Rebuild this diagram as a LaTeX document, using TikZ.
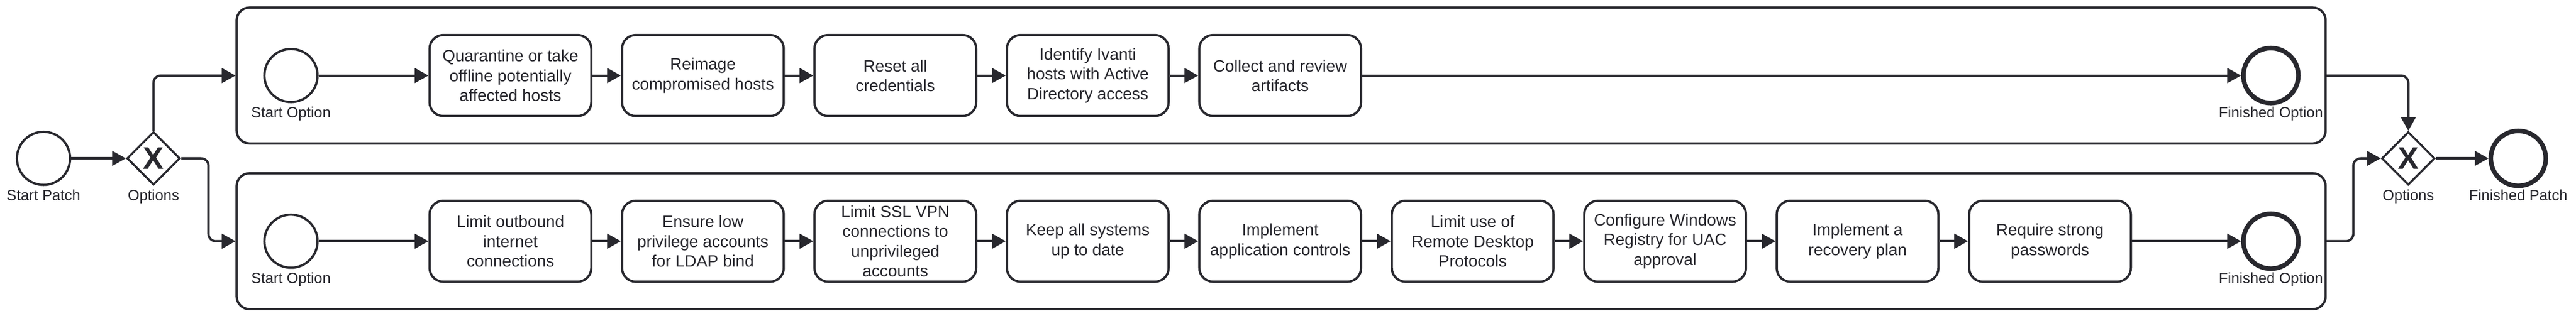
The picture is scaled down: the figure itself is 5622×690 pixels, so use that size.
\documentclass[tikz,border=0pt]{standalone}
\usepackage{fontspec}
\setmainfont{Liberation Sans}
\usetikzlibrary{shapes.geometric,arrows.meta}
\definecolor{ink}{RGB}{40,40,46}
\begin{document}
\begin{tikzpicture}[x=1pt,y=-1pt,
  every node/.style={text=ink},
  pool/.style={draw=ink, line width=5pt, rounded corners=28pt, minimum width=4559pt, minimum height=297pt, inner sep=0pt},
  task/.style={draw=ink, line width=5pt, rounded corners=30pt, minimum width=353pt, minimum height=177pt, inner sep=0pt, align=center, font=\fontsize{35.8}{43}\selectfont},
  startev/.style={circle, draw=ink, line width=5pt, minimum size=116pt, inner sep=0pt},
  endev/.style={circle, draw=ink, line width=10pt, minimum size=120pt, inner sep=0pt},
  gate/.style={diamond, draw=ink, line width=4.5pt, minimum width=116pt, minimum height=116pt, inner sep=0pt},
  gx/.style={font=\fontsize{68}{68}\selectfont\bfseries, inner sep=0pt},
  lbl/.style={font=\fontsize{32.5}{38}\selectfont, inner sep=0pt, anchor=base},
  flow/.style={draw=ink, line width=5pt, -{Triangle[length=30pt,width=32pt]}, rounded corners=16pt},
]
\useasboundingbox (0,0) rectangle (5622,690);
\fill[white] (0,0) rectangle (5622,690);

% pools
\node[pool] (pool1) at (2796,165) {};
\node[pool] (pool2) at (2796,527) {};

% outer events and gateways
\node[startev] (sp) at (95,346) {};
\node[gate] (g1) at (335,346) {};
\node[gx] (x1) at (335,346) {X};
\node[gate] (g2) at (5256,346) {};
\node[gx] (x2) at (5256,346) {X};
\node[endev] (ep) at (5496,346) {};
\node[lbl] (lsp) at (95,438) {Start Patch};
\node[lbl] (lg1) at (335,438) {Options};
\node[lbl] (lg2) at (5256,438) {Options};
\node[lbl] (lep) at (5496,438) {Finished Patch};

% top lane
\node[startev] (s1) at (635,165) {};
\node[lbl] (ls1) at (635,257) {Start Option};
\node[task] (t1) at (1114,165) {Quarantine or take\\offline potentially\\affected hosts};
\node[task] (t2) at (1534,165) {Reimage\\compromised hosts};
\node[task] (t3) at (1954,165) {Reset all\\credentials};
\node[task] (t4) at (2374,165) {Identify Ivanti\\hosts with Active\\Directory access};
\node[task] (t5) at (2794,165) {Collect and review\\artifacts};
\node[endev] (e1) at (4956,165) {};
\node[lbl] (le1) at (4956,257) {Finished Option};

% bottom lane
\node[startev] (s2) at (635,527) {};
\node[lbl] (ls2) at (635,619) {Start Option};
\node[task] (u1) at (1114,527) {Limit outbound\\internet\\connections};
\node[task] (u2) at (1534,527) {Ensure low\\privilege accounts\\for LDAP bind};
\node[task] (u3) at (1954,527) {Limit SSL VPN\\connections to\\unprivileged\\accounts};
\node[task] (u4) at (2374,527) {Keep all systems\\up to date};
\node[task] (u5) at (2794,527) {Implement\\application controls};
\node[task] (u6) at (3214,527) {Limit use of\\Remote Desktop\\Protocols};
\node[task] (u7) at (3634,527) {Configure Windows\\Registry for UAC\\approval};
\node[task] (u8) at (4054,527) {Implement a\\recovery plan};
\node[task] (u9) at (4474,527) {Require strong\\passwords};
\node[endev] (e2) at (4956,527) {};
\node[lbl] (le2) at (4956,619) {Finished Option};

% junction coordinates
\coordinate (j1) at (455,0);
\coordinate (j2) at (5136,0);

% flows
\draw[flow] (sp) -- (g1);
\draw[flow] (g1.north) |- (pool1.west);
\draw[flow] (g1.east) -- (g1.east -| j1) |- (pool2.west);
\foreach \a/\b in {s1/t1,t1/t2,t2/t3,t3/t4,t4/t5,t5/e1,
                   s2/u1,u1/u2,u2/u3,u3/u4,u4/u5,u5/u6,u6/u7,u7/u8,u8/u9,u9/e2}
  \draw[flow] (\a) -- (\b);
\draw[flow] (pool1.east) -| (g2.north);
\draw[flow] (pool2.east) -- (pool2.east -| j2) |- (g2.west);
\draw[flow] (g2) -- (ep);
\end{tikzpicture}
\end{document}
